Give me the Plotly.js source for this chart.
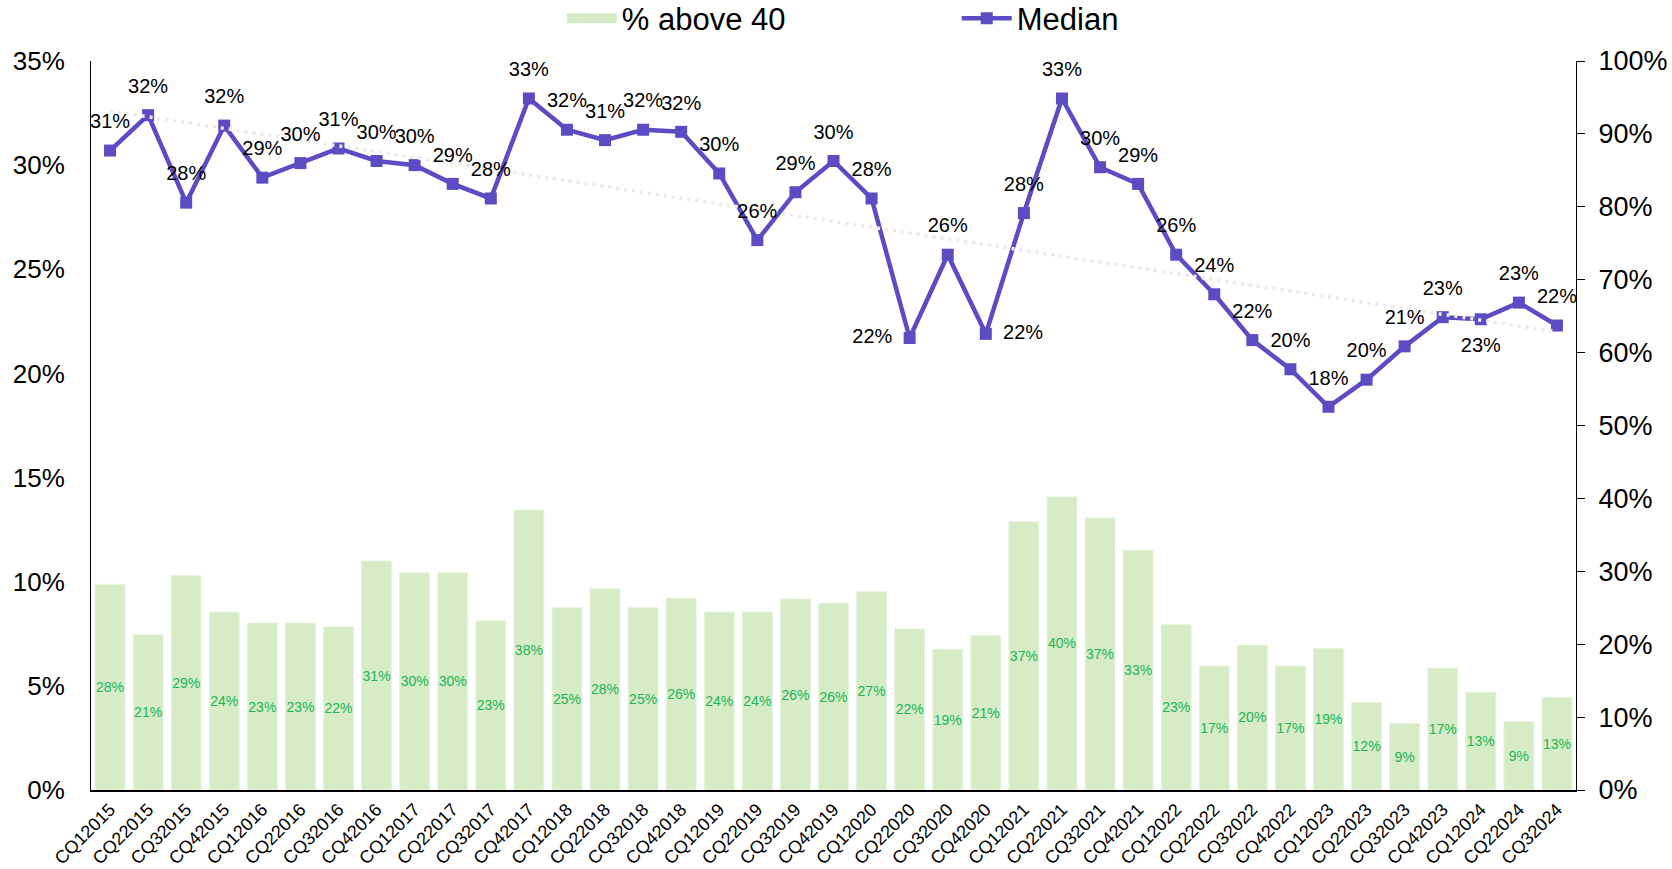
<!DOCTYPE html>
<html>
<head>
<meta charset="utf-8">
<script src="https://cdn.plot.ly/plotly-3.0.1.min.js"></script>
<style>
  html, body { margin: 0; padding: 0; background: #ffffff; }
  #chart { width: 1672px; height: 869px; }
</style>
</head>
<body>
<div id="chart"></div>
<script>
// Categories (quarters)
const quarters = [
  "CQ12015","CQ22015","CQ32015","CQ42015",
  "CQ12016","CQ22016","CQ32016","CQ42016",
  "CQ12017","CQ22017","CQ32017","CQ42017",
  "CQ12018","CQ22018","CQ32018","CQ42018",
  "CQ12019","CQ22019","CQ32019","CQ42019",
  "CQ12020","CQ22020","CQ32020","CQ42020",
  "CQ12021","CQ22021","CQ32021","CQ42021",
  "CQ12022","CQ22022","CQ32022","CQ42022",
  "CQ12023","CQ22023","CQ32023","CQ42023",
  "CQ12024","CQ22024","CQ32024"
];

// % above 40 (right axis, percent)
const aboveForty = [
  28.2, 21.3, 29.4, 24.4,
  22.9, 22.9, 22.4, 31.4,
  29.8, 29.8, 23.2, 38.4,
  25.0, 27.6, 25.0, 26.3,
  24.4, 24.4, 26.2, 25.6,
  27.2, 22.1, 19.3, 21.2,
  36.8, 40.2, 37.3, 32.9,
  22.7, 17.0, 19.9, 17.0,
  19.4, 12.0, 9.1, 16.7,
  13.4, 9.4, 12.7
];
const aboveFortyLabels = [
  "28%","21%","29%","24%",
  "23%","23%","22%","31%",
  "30%","30%","23%","38%",
  "25%","28%","25%","26%",
  "24%","24%","26%","26%",
  "27%","22%","19%","21%",
  "37%","40%","37%","33%",
  "23%","17%","20%","17%",
  "19%","12%","9%","17%",
  "13%","9%","13%"
];

// Median (left axis, percent)
const median = [
  30.7, 32.4, 28.2, 31.9,
  29.4, 30.1, 30.8, 30.2,
  30.0, 29.1, 28.4, 33.2,
  31.7, 31.2, 31.7, 31.6,
  29.6, 26.4, 28.7, 30.2,
  28.4, 21.7, 25.7, 21.9,
  27.7, 33.2, 29.9, 29.1,
  25.7, 23.8, 21.6, 20.2,
  18.4, 19.7, 21.3, 22.7,
  22.6, 23.4, 22.3
];
const medianLabels = [
  "31%","32%","28%","32%",
  "29%","30%","31%","30%",
  "30%","29%","28%","33%",
  "32%","31%","32%","32%",
  "30%","26%","29%","30%",
  "28%","22%","26%","22%",
  "28%","33%","30%","29%",
  "26%","24%","22%","20%",
  "18%","20%","21%","23%",
  "23%","23%","22%"
];
const medianLabelPos = [
  "top center","top center","top center","top center",
  "top center","top center","top center","top center",
  "top center","top center","top center","top center",
  "top center","top center","top center","top center",
  "top center","top center","top center","top center",
  "top center","middle left","top center","middle right",
  "top center","top center","top center","top center",
  "top center","top center","top center","top center",
  "top center","top center","top center","top center",
  "bottom center","top center","top center"
];

// Trend line end points for the median
const trendX = ["CQ12015", "CQ32024"];
const trendY = [32.6, 22.0];

const FONT = "Liberation Sans, Arial, Helvetica, sans-serif";
const PURPLE = "#5b4cc4";
const BARGREEN = "#d5ecc6";
const LABELGREEN = "#22b45a";

const traces = [
  {
    type: "bar",
    name: "% above 40",
    x: quarters,
    y: aboveForty,
    yaxis: "y",
    marker: { color: BARGREEN, line: { color: "#e4f3da", width: 1 } },
    text: aboveFortyLabels,
    textposition: "inside",
    insidetextanchor: "middle",
    constraintext: "none",
    textangle: 0,
    textfont: { family: FONT, size: 14, color: LABELGREEN },
    showlegend: false,
    legendgroup: "above",
    hoverinfo: "x+y"
  },
  {
    // legend entry only (wide swatch for the bar series), no visible data
    type: "scatter",
    mode: "lines",
    name: "% above 40",
    x: [quarters[0]],
    y: [null],
    yaxis: "y",
    legendgroup: "above",
    line: { color: BARGREEN, width: 18 },
    showlegend: true,
    hoverinfo: "skip"
  },
  {
    type: "scatter",
    mode: "lines+markers",
    name: "Median",
    x: quarters,
    y: median,
    yaxis: "y2",
    line: { color: PURPLE, width: 4.5 },
    marker: { color: PURPLE, symbol: "square", size: 12 },
    hoverinfo: "x+y"
  },
  {
    type: "scatter",
    mode: "lines",
    name: "Trend",
    x: trendX,
    y: trendY,
    yaxis: "y2",
    line: { color: "#ebebeb", width: 3.5, dash: "3px,5px" },
    showlegend: false,
    hoverinfo: "skip"
  },
  {
    type: "scatter",
    mode: "markers+text",
    name: "Median labels",
    x: quarters,
    y: median,
    yaxis: "y2",
    text: medianLabels,
    textposition: medianLabelPos,
    textfont: { family: FONT, size: 20, color: "#000000" },
    marker: { size: 26, color: "rgba(0,0,0,0)" },
    showlegend: false,
    hoverinfo: "skip"
  }
];

const layout = {
  width: 1672,
  height: 869,
  paper_bgcolor: "#ffffff",
  plot_bgcolor: "#ffffff",
  font: { family: FONT, color: "#000000" },
  margin: { l: 91, r: 96, t: 61, b: 79, autoexpand: false },
  bargap: 0.216,
  showlegend: true,
  legend: {
    orientation: "h",
    x: 0.583,
    xanchor: "center",
    y: 1.058,
    yanchor: "middle",
    font: { family: FONT, size: 31, color: "#000000" },
    entrywidth: 330,
    itemwidth: 50,
    bgcolor: "rgba(0,0,0,0)"
  },
  xaxis: {
    type: "category",
    range: [-0.5, 38.5],
    autorange: false,
    tickangle: -45,
    tickfont: { family: FONT, size: 18, color: "#000000" },
    showline: true,
    linecolor: "#000000",
    linewidth: 2,
    ticks: "",
    showgrid: false,
    zeroline: false
  },
  yaxis: {
    side: "right",
    range: [0, 100],
    dtick: 10,
    ticksuffix: "%",
    tickfont: { family: FONT, size: 27, color: "#000000" },
    showline: true,
    linecolor: "#000000",
    linewidth: 1,
    ticks: "outside",
    ticklen: 8,
    tickcolor: "#000000",
    ticklabelstandoff: 8,
    showgrid: false,
    zeroline: false
  },
  yaxis2: {
    side: "left",
    overlaying: "y",
    range: [0, 35],
    dtick: 5,
    ticksuffix: "%",
    tickfont: { family: FONT, size: 26, color: "#000000" },
    showline: true,
    linecolor: "#000000",
    linewidth: 1,
    ticks: "",
    ticklabelstandoff: 20,
    showgrid: false,
    zeroline: false
  }
};

Plotly.newPlot("chart", traces, layout, { displayModeBar: false, responsive: false });
</script>
</body>
</html>
